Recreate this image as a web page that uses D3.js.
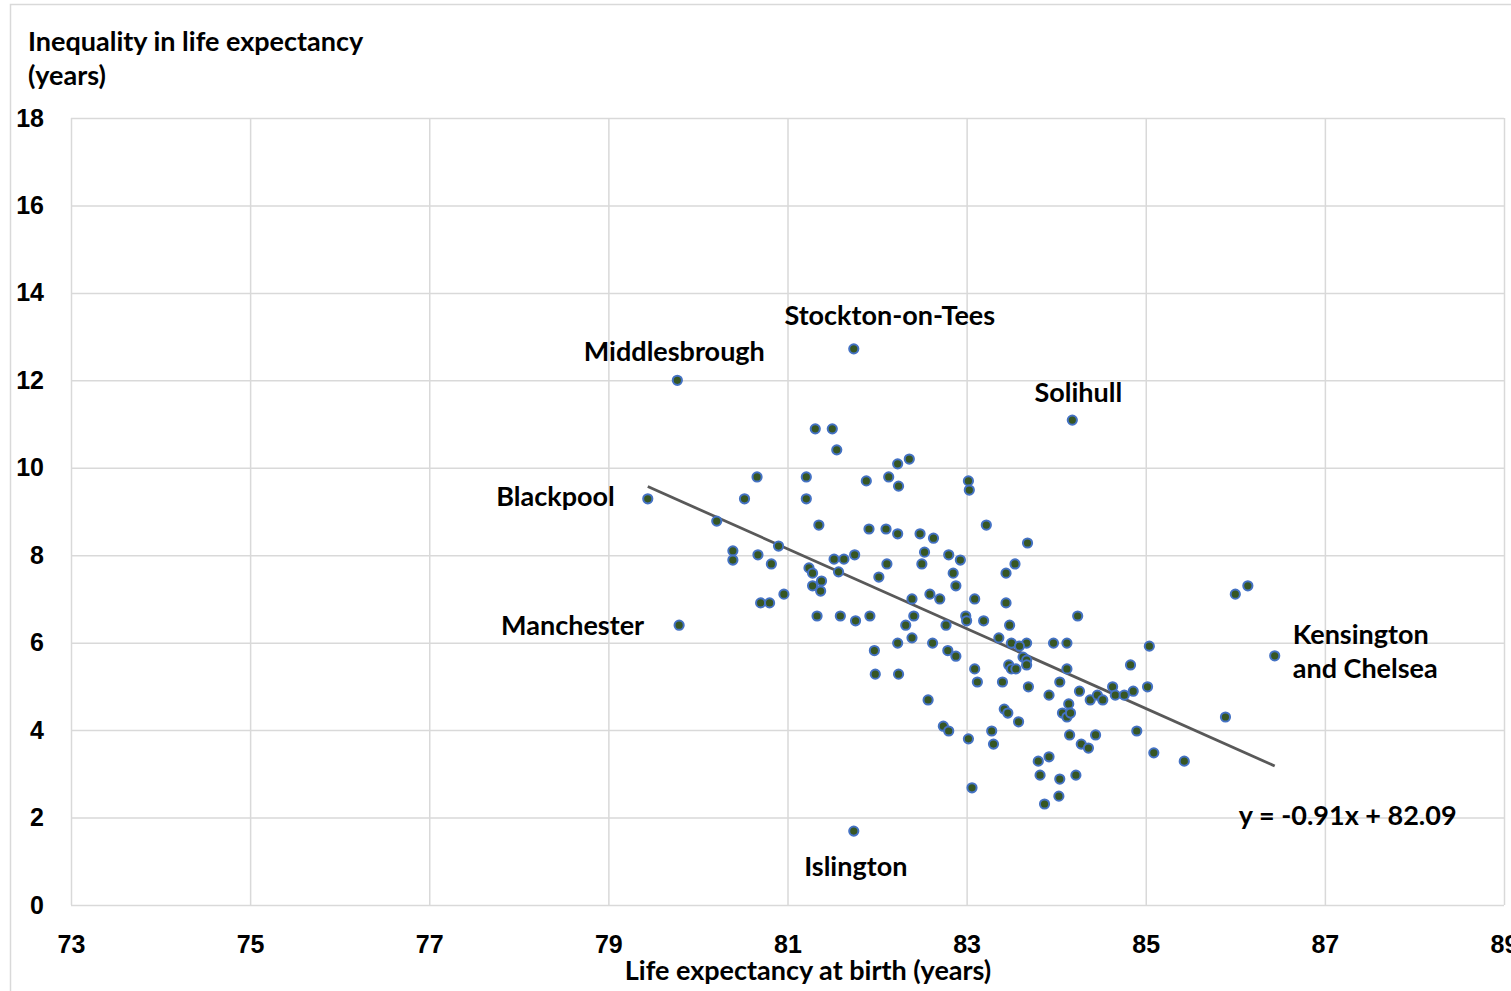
<!DOCTYPE html>
<html>
<head>
<meta charset="utf-8">
<script src="https://cdn.jsdelivr.net/npm/d3@7"></script>
<style>
  body { margin: 0; background: #fff; }
  svg { display: block; font-family: Lato, "Open Sans", sans-serif; font-weight: 700; }
  .grid line { stroke: #d9d9d9; stroke-width: 1.5; }
  .grid path { stroke: none; }
  .tick text { fill: #000; font-size: 25px; font-weight: 700; }
</style>
</head>
<body>
<svg width="1511" height="991"></svg>
<script>

	// life expectancy at birth (x) and inequality in life expectancy (y), one entry per area
	var life_expectancy = [
		79.44, 79.77, 79.79, 81.74, 81.74, 84.18, 86.44,
		81.31, 81.50, 81.55, 82.23, 82.36, 80.66, 81.21, 81.88, 82.13, 82.24,
		80.52, 81.21, 83.02, 83.03, 80.21, 81.35, 83.22, 83.68, 81.91, 82.10,
		82.23, 82.48, 82.63, 80.90, 80.39, 80.39, 80.67, 80.82, 81.52, 81.63,
		81.75, 81.24, 81.28, 81.57, 81.38, 81.28, 81.37, 82.02, 82.11, 82.53,
		82.50, 82.80, 82.93, 82.85, 82.88, 83.44, 83.54, 80.96, 80.70, 80.80,
		82.39, 82.59, 82.70, 83.09, 83.44, 81.33, 81.59, 81.76, 81.92, 82.41,
		82.32, 82.77, 82.99, 83.00, 83.19, 83.48, 84.24, 82.39, 82.23, 82.62,
		83.36, 83.50, 83.67, 83.97, 84.12, 85.04, 82.79, 83.59, 81.97, 82.88,
		81.98, 82.24, 83.09, 83.12, 82.57, 82.74, 82.80, 83.02, 83.28, 83.30,
		83.06, 83.63, 83.67, 83.67, 83.47, 83.50, 83.55, 84.12, 84.83, 83.40,
		83.69, 84.04, 83.92, 84.26, 84.63, 84.86, 85.02, 84.38, 84.46, 84.52,
		84.66, 84.76, 84.14, 84.07, 84.12, 84.16, 83.42, 83.46, 83.58, 85.89,
		84.15, 84.44, 84.28, 84.36, 84.90, 85.09, 85.43, 83.80, 83.92, 83.82,
		84.04, 84.22, 84.03, 83.87, 86.00, 86.14
	];

	var inequality = [
		9.29, 12.00, 6.40, 12.72, 1.69, 11.09, 5.70,
		10.89, 10.89, 10.41, 10.09, 10.20, 9.79, 9.79, 9.70, 9.79, 9.58,
		9.29, 9.29, 9.70, 9.49, 8.78, 8.69, 8.69, 8.28, 8.60, 8.60,
		8.49, 8.49, 8.39, 8.21, 8.10, 7.89, 8.01, 7.80, 7.91, 7.91,
		8.01, 7.71, 7.59, 7.62, 7.41, 7.30, 7.18, 7.50, 7.80, 8.07,
		7.80, 8.01, 7.89, 7.59, 7.30, 7.59, 7.80, 7.11, 6.91, 6.91,
		7.00, 7.11, 7.00, 7.00, 6.91, 6.61, 6.61, 6.50, 6.61, 6.61,
		6.40, 6.40, 6.61, 6.50, 6.50, 6.40, 6.61, 6.11, 5.99, 5.99,
		6.11, 5.99, 5.99, 5.99, 5.99, 5.92, 5.82, 5.92, 5.82, 5.69,
		5.28, 5.28, 5.40, 5.10, 4.69, 4.09, 3.98, 3.80, 3.98, 3.68,
		2.68, 5.67, 5.60, 5.49, 5.49, 5.40, 5.40, 5.40, 5.49, 5.10,
		4.99, 5.10, 4.80, 4.89, 4.99, 4.89, 4.99, 4.69, 4.80, 4.69,
		4.80, 4.80, 4.60, 4.39, 4.30, 4.39, 4.48, 4.39, 4.19, 4.30,
		3.89, 3.89, 3.68, 3.59, 3.98, 3.48, 3.29, 3.29, 3.39, 2.97,
		2.88, 2.97, 2.49, 2.31, 7.11, 7.30
	];

	// names of the areas that carry a label (the first seven entries above)
	var area_names = ["Blackpool", "Middlesbrough", "Manchester", "Stockton-on-Tees", "Islington", "Solihull", "Kensington and Chelsea"];

	var x_ticks = [73, 75, 77, 79, 81, 83, 85, 87, 89];
	var y_ticks = [0, 2, 4, 6, 8, 10, 12, 14, 16, 18];

	var trend_slope = -0.913;
	var trend_intercept = 82.10;
	var trend_label = "y = -0.91x + 82.09";

	var y_title = ["Inequality in life expectancy", "(years)"];
	var x_title = "Life expectancy at birth (years)";

	// label placement around each named point, in pixels
	var label_layout = {
		"Blackpool":              { dx: -33, dy: -2,  anchor: "end",    lines: ["Blackpool"] },
		"Middlesbrough":          { dx: -3,  dy: -29, anchor: "middle", lines: ["Middlesbrough"] },
		"Manchester":             { dx: -35, dy: 0,   anchor: "end",    lines: ["Manchester"] },
		"Stockton-on-Tees":       { dx: 36,  dy: -33, anchor: "middle", lines: ["Stockton-on-Tees"] },
		"Islington":              { dx: 2,   dy: 35,  anchor: "middle", lines: ["Islington"] },
		"Solihull":               { dx: 6,   dy: -28, anchor: "middle", lines: ["Solihull"] },
		"Kensington and Chelsea": { dx: 18,  dy: -21, anchor: "start",  lines: ["Kensington", "and Chelsea"] }
	};

	var chart = (function(){

		var svg = d3.select("svg");
		var plot_left = 71, plot_right = 1504, plot_top = 118, plot_bottom = 905;
		var label_size = 27;

		var x = d3.scaleLinear().domain([73, 89]).range([plot_left, plot_right]);
		var y = d3.scaleLinear().domain([0, 18]).range([plot_bottom, plot_top]);

		// outer chart border (cropped at right and bottom like the source)
		svg.append("rect")
			.attr("x", 10.5).attr("y", 4.5)
			.attr("width", 1600).attr("height", 1100)
			.attr("fill", "none").attr("stroke", "#d9d9d9").attr("stroke-width", 1.5);

		svg.append("g")
			.attr("class", "grid")
			.attr("transform", "translate(" + plot_left + ",0)")
			.call(d3.axisLeft(y).tickValues(y_ticks).tickSize(-(plot_right - plot_left)).tickPadding(27).tickFormat(d3.format("d")));

		svg.append("g")
			.attr("class", "grid")
			.attr("transform", "translate(0," + plot_bottom + ")")
			.call(d3.axisBottom(x).tickValues(x_ticks).tickSize(-(plot_bottom - plot_top)).tickPadding(30).tickFormat(d3.format("d")));

		// trend line over the range of the data
		var x_extent = d3.extent(life_expectancy);
		svg.append("line")
			.attr("x1", x(x_extent[0])).attr("y1", y(trend_slope * x_extent[0] + trend_intercept))
			.attr("x2", x(x_extent[1])).attr("y2", y(trend_slope * x_extent[1] + trend_intercept))
			.attr("stroke", "#595959").attr("stroke-width", 2.8);

		var points = life_expectancy.map(function(d, i){ return { "x": d, "y": inequality[i] }; });

		svg.append("g").selectAll("circle")
			.data(points)
			.enter()
			.append("circle")
			.attr("cx", function(d){ return x(d.x); })
			.attr("cy", function(d){ return y(d.y); })
			.attr("r", 4.6)
			.attr("fill", "#375623")
			.attr("stroke", "#4472c4")
			.attr("stroke-width", 2);

		// labels for named areas
		area_names.forEach(function(name, i){
			var lay = label_layout[name];
			var px = x(life_expectancy[i]) + lay.dx, py = y(inequality[i]) + lay.dy;
			var t = svg.append("text")
				.attr("text-anchor", lay.anchor)
				.attr("font-size", label_size)
				.attr("fill", "#000");
			lay.lines.forEach(function(line, j){
				t.append("tspan").attr("x", px).attr("y", py + j * 34).attr("dy", "0.35em").text(line);
			});
		});

		svg.append("text")
			.attr("x", x(x_extent[1]) + 73).attr("y", y(trend_slope * x_extent[1] + trend_intercept) + 50)
			.attr("dy", "0.35em")
			.attr("text-anchor", "middle")
			.attr("font-size", label_size)
			.text(trend_label);

		var yt = svg.append("text").attr("font-size", label_size).attr("fill", "#000");
		y_title.forEach(function(line, j){
			yt.append("tspan").attr("x", 28).attr("y", 51 + j * 34).text(line);
		});

		svg.append("text")
			.attr("x", 808).attr("y", 980)
			.attr("text-anchor", "middle")
			.attr("font-size", label_size)
			.text(x_title);

		return null;
	})();

</script>
</body>
</html>
